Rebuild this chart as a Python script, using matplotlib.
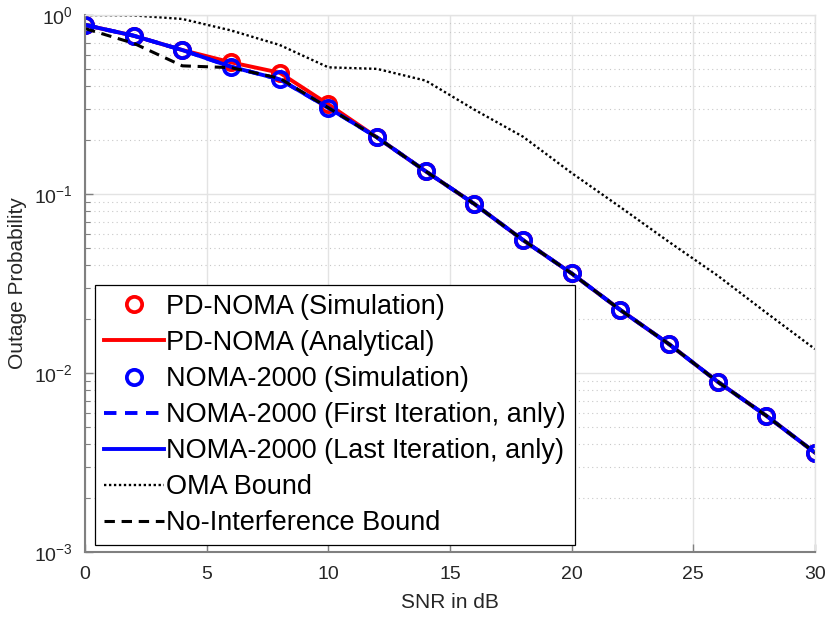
import math
import matplotlib
matplotlib.use("Agg")
import matplotlib.pyplot as plt
from matplotlib.ticker import LogLocator, FixedLocator, FuncFormatter, NullFormatter

plt.rcParams['font.family'] = ['Liberation Sans', 'DejaVu Sans']
plt.rcParams['mathtext.fontset'] = 'custom'
plt.rcParams['mathtext.rm'] = 'Liberation Sans'

snr_db = [0, 2, 4, 6, 8, 10, 12, 14, 16, 18, 20, 22, 24, 26, 28, 30]

pd_noma_sim = [0.88, 0.766, 0.637, 0.544, 0.476, 0.317, 0.207, 0.134, 0.088, 0.0553,
               0.036, 0.0225, 0.0145, 0.00894, 0.00577, 0.00359]
pd_noma_ana = [0.88, 0.766, 0.637, 0.544, 0.476, 0.317, 0.207, 0.134, 0.088, 0.0553,
               0.036, 0.0225, 0.0145, 0.00894, 0.00577, 0.00359]
noma2000_sim = [0.88, 0.766, 0.637, 0.514, 0.437, 0.303, 0.207, 0.134, 0.088, 0.0553,
                0.036, 0.0225, 0.0145, 0.00894, 0.00577, 0.00359]
noma2000_first = [0.88, 0.766, 0.637, 0.514, 0.437, 0.303, 0.207, 0.134, 0.088, 0.0553,
                  0.036, 0.0225, 0.0145, 0.00894, 0.00577, 0.00359]
noma2000_last = [0.88, 0.766, 0.637, 0.514, 0.437, 0.303, 0.207, 0.134, 0.088, 0.0553,
                 0.036, 0.0225, 0.0145, 0.00894, 0.00577, 0.00359]
oma_bound = [1.0, 0.995, 0.95, 0.82, 0.68, 0.51, 0.50, 0.43, 0.296, 0.209,
             0.131, 0.0845, 0.054, 0.035, 0.0217, 0.0136]
no_interf_bound = [0.84, 0.695, 0.52, 0.508, 0.443, 0.303, 0.207, 0.134, 0.088, 0.0553,
                   0.036, 0.0225, 0.0145, 0.00894, 0.00577, 0.00359]

legend_labels = ['PD-NOMA (Simulation)', 'PD-NOMA (Analytical)', 'NOMA-2000 (Simulation)',
                 'NOMA-2000 (First Iteration, anly)', 'NOMA-2000 (Last Iteration, anly)',
                 'OMA Bound', 'No-Interference Bound']
x_ticks = [0, 5, 10, 15, 20, 25, 30]

fig = plt.figure(figsize=(8.3, 6.19), dpi=100)
ax = fig.add_axes([85/830, 1-552/619, (815-85)/830, (552-15)/619])

ax.plot(snr_db, pd_noma_sim, linestyle='none', marker='o', markersize=11, markeredgewidth=2.7,
        markerfacecolor='none', markeredgecolor='#ff0000', label=legend_labels[0])
ax.plot(snr_db, pd_noma_ana, color='#ff0000', lw=2.8, label=legend_labels[1])
ax.plot(snr_db, noma2000_sim, linestyle='none', marker='o', markersize=11, markeredgewidth=2.7,
        markerfacecolor='none', markeredgecolor='#0000ff', label=legend_labels[2])
ax.plot(snr_db, noma2000_first, color='#0000ff', lw=2.8, linestyle=(0, (3.2, 2.2)), label=legend_labels[3])
ax.plot(snr_db, noma2000_last, color='#0000ff', lw=2.8, label=legend_labels[4])
ax.plot(snr_db, oma_bound, color='black', lw=1.7, linestyle=(0, (1, 1.1)), label=legend_labels[5])
ax.plot(snr_db, no_interf_bound, color='black', lw=2.2, linestyle=(0, (3.4, 2.2)), label=legend_labels[6])

ax.set_yscale('log')
ax.set_xlim(0, 30)
ax.set_ylim(1e-3, 1)
ax.xaxis.set_major_locator(FixedLocator(x_ticks))
ax.yaxis.set_major_locator(LogLocator(base=10, numticks=10))
ax.yaxis.set_minor_locator(LogLocator(base=10, subs=range(2, 10), numticks=20))
ax.yaxis.set_minor_formatter(NullFormatter())

def fmt(v, pos):
    e = int(round(math.log10(v)))
    return r'$\mathregular{10^{%d}}$' % e
ax.yaxis.set_major_formatter(FuncFormatter(fmt))

ax.grid(True, which='major', color='#e3e3e3', lw=1.0, linestyle='-')
ax.grid(True, which='minor', axis='y', color='#c8c8c8', lw=0.8, linestyle=(0, (1, 3)))
ax.set_axisbelow(True)

for s in ['top', 'right']:
    ax.spines[s].set_color('#e3e3e3')
    ax.spines[s].set_linewidth(1.0)
for s in ['left', 'bottom']:
    ax.spines[s].set_color('#808080')
    ax.spines[s].set_linewidth(1.5)

ax.tick_params(which='both', direction='in', top=False, right=False, colors='#808080',
               labelcolor='#262626', labelsize=14)
ax.tick_params(which='major', length=6, width=1.0)
ax.tick_params(which='minor', length=3.5, width=0.8)
ax.tick_params(axis='x', pad=10)
ax.tick_params(axis='y', pad=9)

ax.set_xlabel('SNR in dB', fontsize=15, color='#262626', labelpad=7)
ax.set_ylabel('Outage Probability', fontsize=15, color='#262626', labelpad=5)

leg = ax.legend(loc='lower left', bbox_to_anchor=(10/730, 7/537), fontsize=19.5,
                frameon=True, fancybox=False, edgecolor='black', framealpha=1,
                handlelength=2.2, handletextpad=0.1, borderpad=0.33, labelspacing=0.37,
                borderaxespad=0)
leg.get_frame().set_linewidth(0.9)

fig.savefig('out.png', dpi=100)
